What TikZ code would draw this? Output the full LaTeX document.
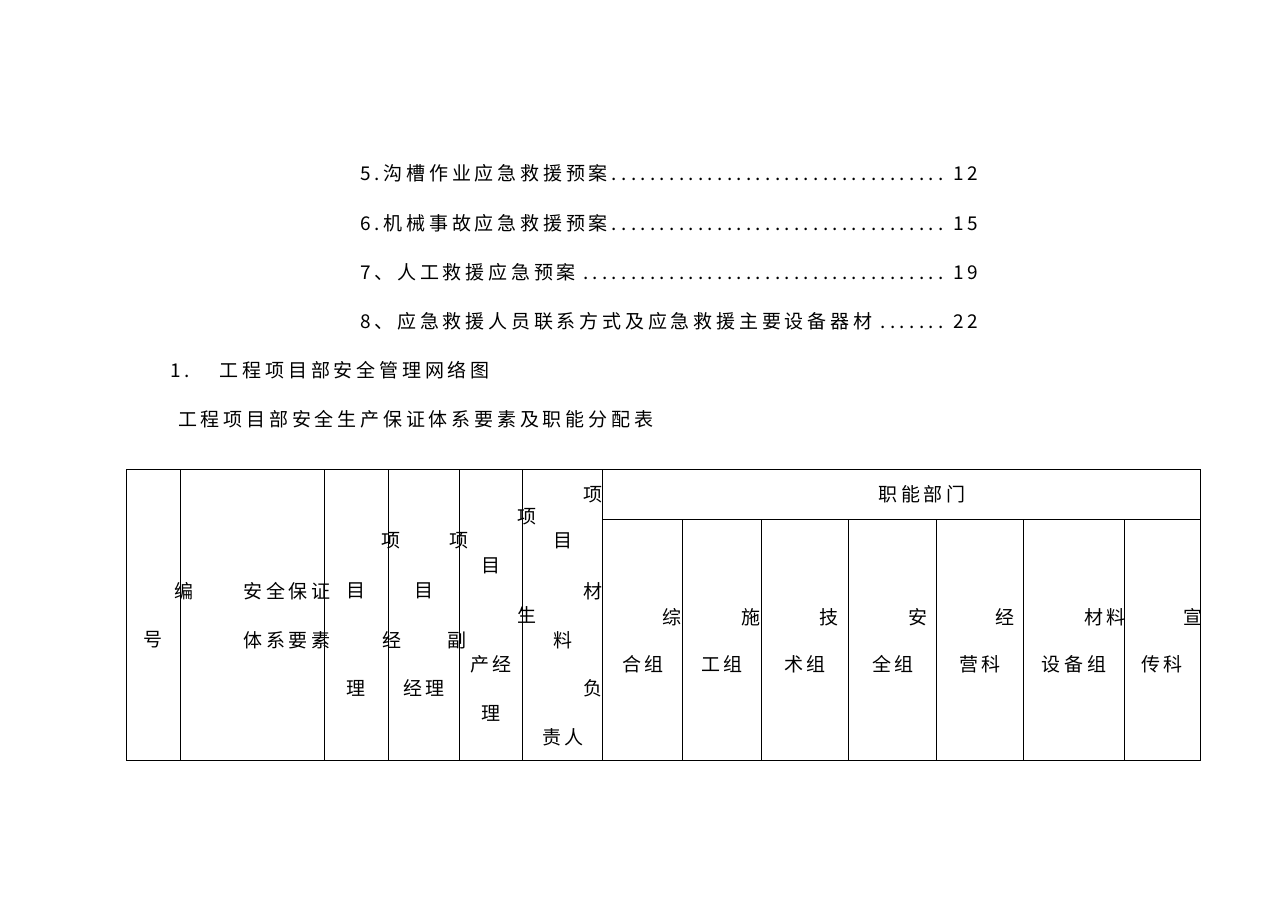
\documentclass[tikz,border=0pt]{standalone}
\usepackage{fontspec}
\newfontfamily\cjk[LetterSpace=20]{Noto Sans CJK SC}
\begin{document}
\begin{tikzpicture}[x=1pt,y=-1pt,
  t/.style={font=\cjk\fontsize{19}{19}\selectfont,inner sep=0pt},
  ln/.style={line width=0.9pt}]
\useasboundingbox (0,0) rectangle (1286,909);
\newcommand{\dts}{\leaders\hbox to 9.6pt{\hss.\hss}\hfill}
\foreach \y/\a/\b [count=\i] in {173/5.沟槽作业应急救援预案/12,223/6.机械事故应急救援预案/15,272/7、人工救援应急预案/19,321/8、应急救援人员联系方式及应急救援主要设备器材/22}
  \node[t,anchor=west,text width=618pt] (toc\i) at (360,\y) {\a\dts\b};
\node[t,anchor=west] (h1) at (170,370) {1.\hspace{30pt}工程项目部安全管理网络图};
\node[t,anchor=west] (h2) at (178,419) {工程项目部安全生产保证体系要素及职能分配表};
% table
\draw[ln] (126,469) rectangle (1200,760);
\draw[ln] (602,519) -- (1200,519);
\foreach \x in {180,324,388,459,522,602} \draw[ln] (\x,469) -- (\x,760);
\foreach \x in {682,761,848,936,1023,1124} \draw[ln] (\x,519) -- (\x,760);
\foreach \x/\y/\s [count=\i] in {184/591/编,153/640/号,287/591/安全保证,287/640/体系要素,
 391/541/项,459/541/项,356/591/目,424/591/目,392/640/经,457/640/副,356/688/理,424/688/经理,
 491/566/目,491/664/产经,491/713/理,527/517/项,527/615/生,
 593/495/项,563/541/目,593/591/材,563/640/料,593/688/负,563/737/责人,
 922/494/职能部门,
 672/617/综,643/664/合组,751/617/施,722/664/工组,829/617/技,805/664/术组,
 918/617/安,893/664/全组,1005/617/经,980/664/营科,1105/617/材料,1074/664/设备组,
 1193/617/宣,1162/664/传科}
  \node[t] (c\i) at (\x,\y) {\s};
\end{tikzpicture}
\end{document}
